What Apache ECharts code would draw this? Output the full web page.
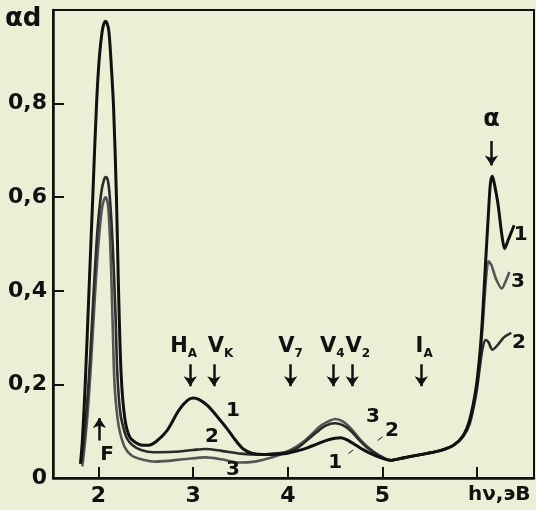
<!DOCTYPE html>
<html><head><meta charset="utf-8">
<script src="https://cdn.jsdelivr.net/npm/echarts@6/dist/echarts.min.js"></script>
<style>html,body{margin:0;padding:0;background:#eceed6;}#c{width:536px;height:510px;}</style>
</head><body><div id="c"></div>
<script>
// Photon energy (eV) vs optical density αd, three spectra
const curve1 = [[1.81,0.03],[1.83,0.08],[1.86,0.2],[1.9,0.4],[1.94,0.6],[1.98,0.8],[2.01,0.9],[2.04,0.955],[2.06,0.972],[2.075,0.976],[2.09,0.972],[2.11,0.955],[2.13,0.9],[2.16,0.79],[2.19,0.6],[2.21,0.42],[2.24,0.22],[2.28,0.125],[2.33,0.088],[2.4,0.075],[2.47,0.07],[2.53,0.07],[2.61,0.078],[2.72,0.1],[2.85,0.145],[2.94,0.166],[3.0,0.171],[3.06,0.168],[3.15,0.155],[3.26,0.13],[3.36,0.105],[3.45,0.08],[3.53,0.062],[3.62,0.053],[3.75,0.05],[3.9,0.051],[4.0,0.053],[4.1,0.058],[4.2,0.064],[4.3,0.072],[4.4,0.08],[4.5,0.085],[4.56,0.086],[4.64,0.08],[4.72,0.07],[4.8,0.06],[4.9,0.05],[5.0,0.042],[5.08,0.038],[5.2,0.042],[5.4,0.05],[5.6,0.058],[5.75,0.07],[5.85,0.09],[5.92,0.124],[5.99,0.195],[6.03,0.27],[6.055,0.34],[6.08,0.43],[6.1,0.5],[6.12,0.57],[6.14,0.63],[6.16,0.645],[6.18,0.63],[6.22,0.585],[6.26,0.52],[6.29,0.49],[6.33,0.51],[6.39,0.54]];
const curve2 = [[1.82,0.035],[1.85,0.09],[1.88,0.16],[1.91,0.25],[1.95,0.4],[1.99,0.53],[2.03,0.61],[2.06,0.638],[2.08,0.643],[2.10,0.635],[2.12,0.6],[2.15,0.5],[2.18,0.35],[2.2,0.22],[2.23,0.14],[2.26,0.11],[2.3,0.085],[2.36,0.07],[2.45,0.06],[2.58,0.055],[2.8,0.056],[3.0,0.06],[3.13,0.062],[3.3,0.058],[3.5,0.052],[3.7,0.05],[3.9,0.053],[4.0,0.056],[4.1,0.064],[4.2,0.08],[4.3,0.097],[4.4,0.112],[4.5,0.117],[4.58,0.113],[4.67,0.1],[4.76,0.08],[4.85,0.063],[4.95,0.05],[5.08,0.038],[5.2,0.042],[5.4,0.05],[5.6,0.058],[5.75,0.07],[5.85,0.088],[5.92,0.115],[5.99,0.18],[6.03,0.24],[6.06,0.28],[6.09,0.295],[6.12,0.29],[6.16,0.274],[6.22,0.285],[6.28,0.3],[6.36,0.31]];
const curve3 = [[1.83,0.025],[1.86,0.08],[1.89,0.15],[1.92,0.24],[1.96,0.38],[2.0,0.5],[2.04,0.58],[2.075,0.6],[2.095,0.59],[2.11,0.56],[2.13,0.47],[2.15,0.33],[2.17,0.2],[2.2,0.13],[2.23,0.095],[2.28,0.065],[2.35,0.048],[2.45,0.04],[2.6,0.035],[2.9,0.04],[3.13,0.044],[3.3,0.04],[3.49,0.033],[3.65,0.035],[3.8,0.042],[3.95,0.053],[4.05,0.062],[4.15,0.075],[4.25,0.093],[4.35,0.112],[4.45,0.123],[4.5,0.126],[4.58,0.121],[4.67,0.105],[4.76,0.083],[4.85,0.065],[4.95,0.05],[5.08,0.038],[5.2,0.042],[5.4,0.05],[5.6,0.058],[5.75,0.07],[5.85,0.089],[5.92,0.12],[5.99,0.19],[6.03,0.26],[6.06,0.33],[6.08,0.39],[6.10,0.44],[6.12,0.463],[6.15,0.455],[6.2,0.425],[6.26,0.405],[6.3,0.42],[6.34,0.44]];

// axis ticks
const xTicks = [2,3,4,5,6];
const xTickLabels = [2,3,4,5];
const yTicks = [0,0.2,0.4,0.6,0.8];

// band annotations (label main letter, subscript, label energy, arrow energy)
const bandMain = ['H','V','V','V','V','I'];
const bandSub = ['A','K','7','4','2','A'];
const bandLabelE = [2.9,3.29,4.03,4.47,4.74,5.44];
const bandArrowE = [2.97,3.22,4.03,4.48,4.68,5.41];

// curve number tags
const tagText = ['1','2','3','3','2','1','1','3','2'];
const tagE = [3.42,3.2,3.42,4.9,5.1,4.5,6.46,6.43,6.44];
const tagV = [0.143,0.088,0.017,0.13,0.1,0.032,0.519,0.42,0.288];

const INK = '#111111';
const FONT = 'DejaVu Sans';

const bandData = bandMain.map((m,i)=>({
  value:[bandLabelE[i],0.28],
  label:{formatter:'{m|'+m+'}{s|'+bandSub[i]+'}'}
}));
const tagData = tagText.map((t,i)=>({value:[tagE[i],tagV[i]], label:{formatter:t}}));
const extraData = [
  {value:[2.09,0.049], label:{formatter:'F'}},
  {value:[6.15,0.765], label:{formatter:'α', fontSize:24}}
];

const arrows = bandArrowE.map(e=>[{coord:[e,0.243]},{coord:[e,0.196]}]);
arrows.push([{coord:[6.15,0.72]},{coord:[6.15,0.668]}]);
arrows.push([{coord:[2.01,0.08]},{coord:[2.01,0.128]}]);
const leaders = [
  [{coord:[5.0,0.088]},{coord:[4.95,0.08]}],
  [{coord:[4.64,0.052]},{coord:[4.69,0.06]}]
];

const lineBase = {type:'line', showSymbol:false, smooth:0.3, silent:true};

const chart = echarts.init(document.getElementById('c'));
chart.setOption({
  backgroundColor:'#eceed6',
  animation:false,
  grid:{left:53,right:2,top:10,bottom:32,show:true,borderColor:INK,borderWidth:2},
  xAxis:{type:'value',min:1.52,max:6.6,
    axisLine:{lineStyle:{color:INK,width:2.5}},
    axisTick:{inside:true,length:11,lineStyle:{color:INK,width:2},customValues:xTicks},
    axisLabel:{customValues:xTickLabels,color:INK,fontFamily:FONT,fontSize:22,fontWeight:'bold',margin:7},
    splitLine:{show:false}},
  yAxis:{type:'value',min:0,max:1.0,
    axisLine:{show:true,lineStyle:{color:INK,width:2.5}},
    axisTick:{show:true,inside:true,length:11,lineStyle:{color:INK,width:2},customValues:yTicks},
    axisLabel:{customValues:yTicks,color:INK,fontFamily:FONT,fontSize:22,fontWeight:'bold',margin:6,
      formatter:v=>String(v).replace('.',',')},
    splitLine:{show:false}},
  graphic:[
    {type:'text',left:5,top:6,style:{text:'αd',font:'bold 26px DejaVu Sans',fill:INK}},
    {type:'text',left:468,top:485,style:{text:'hν,эВ',font:'bold 20px DejaVu Sans',fill:INK}}
  ],
  series:[
    Object.assign({}, lineBase, {name:'3', data:curve3, z:2, lineStyle:{color:'#555',width:2.6}}),
    Object.assign({}, lineBase, {name:'2', data:curve2, z:3, lineStyle:{color:'#2b2b2b',width:2.6}}),
    Object.assign({}, lineBase, {name:'1', data:curve1, z:4, lineStyle:{color:INK,width:3}}),
    {type:'scatter', silent:true, symbolSize:1, itemStyle:{color:'rgba(0,0,0,0)',opacity:1}, z:5,
      data:bandData.concat(tagData, extraData),
      label:{show:true, position:'inside', color:INK, opacity:1, fontFamily:FONT, fontSize:20, fontWeight:'bold',
        rich:{m:{fontSize:21,fontFamily:FONT,fontWeight:'bold',color:INK,lineHeight:26},
              s:{fontSize:12,fontFamily:FONT,fontWeight:'bold',color:INK,verticalAlign:'bottom',lineHeight:26}}},
      markLine:{silent:true, symbol:['none','arrow'], symbolSize:10, label:{show:false},
        lineStyle:{color:INK,width:2.5,type:'solid',opacity:1}, data:arrows}
    },
    {type:'scatter', silent:true, symbolSize:0, data:[],
      markLine:{silent:true, symbol:['none','none'], label:{show:false},
        lineStyle:{color:INK,width:1,type:'solid',opacity:1}, data:leaders}}
  ]
});
</script></body></html>
